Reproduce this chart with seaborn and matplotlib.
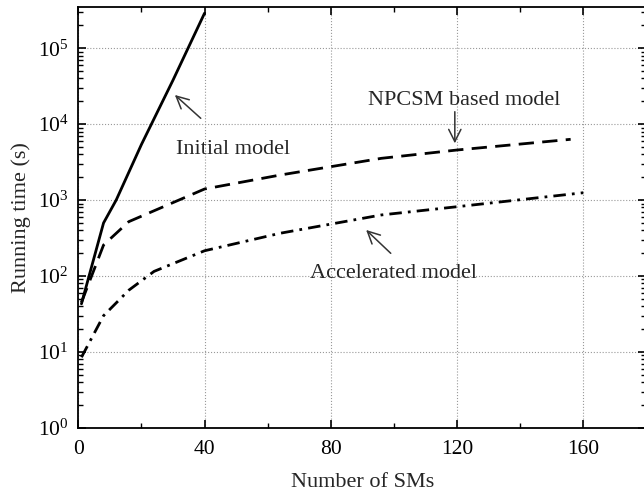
import numpy as np
import pandas as pd
import seaborn as sns
import matplotlib
matplotlib.use("Agg")
import matplotlib.pyplot as plt
from matplotlib.ticker import LogLocator, MultipleLocator, NullFormatter

# ---- data ----
x_initial = [1, 8, 12, 20, 30, 40]
y_initial = [43, 500, 1000, 5400, 38000, 290000]

x_npcsm = [1, 8, 16, 40, 64, 96, 120, 156]
y_npcsm = [45, 256, 520, 1400, 2140, 3550, 4570, 6320]

x_accel = [1, 8, 16, 24, 40, 64, 96, 120, 160]
y_accel = [8.5, 30, 65, 115, 215, 366, 637, 818, 1250]

labels = ["Initial model", "NPCSM based model", "Accelerated model"]

sns.set_theme(style="ticks")
plt.rcParams["font.family"] = ["Liberation Serif", "DejaVu Serif"]
plt.rcParams["mathtext.fontset"] = "custom"
plt.rcParams["mathtext.rm"] = "Liberation Serif"
plt.rcParams["mathtext.it"] = "Liberation Serif:italic"
plt.rcParams["mathtext.bf"] = "Liberation Serif:bold"

fig = plt.figure(figsize=(6.44, 4.95), dpi=100)
ax = fig.add_axes([78.3 / 644, 1 - 427.8 / 495, (646.4 - 78.3) / 644, (427.8 - 7) / 495])

lw = 2.0
sns.lineplot(x=x_initial, y=y_initial, ax=ax, color="black", lw=lw, linestyle="-")
sns.lineplot(x=x_npcsm, y=y_npcsm, ax=ax, color="black", lw=lw, linestyle=(0, (5.5, 3)))
sns.lineplot(x=x_accel, y=y_accel, ax=ax, color="black", lw=lw, linestyle=(0, (4.5, 2.2, 1, 2.2)))

ax.set_yscale("log")
ax.set_xlim(0, 180)
ax.set_ylim(1, 3.5e5)

ax.xaxis.set_major_locator(MultipleLocator(40))
ax.xaxis.set_minor_locator(MultipleLocator(20))
ax.yaxis.set_major_locator(LogLocator(base=10, numticks=10))
ax.yaxis.set_minor_locator(LogLocator(base=10, subs=np.arange(2, 10), numticks=20))
ax.yaxis.set_minor_formatter(NullFormatter())

ax.grid(True, which="major", linestyle=":", color="#999999", lw=0.8)
ax.tick_params(which="both", direction="in", top=True, right=True, colors="black", labelsize=15.5)
ax.tick_params(which="major", length=6, width=1.2)
ax.tick_params(which="minor", length=3.5, width=1.0)
ax.tick_params(axis="x", which="major", pad=9)
ax.tick_params(axis="y", which="major", pad=7)
for s in ax.spines.values():
    s.set_linewidth(1.3)
    s.set_color("black")

ax.set_xlabel("Number of SMs", fontsize=16, labelpad=10)
ax.set_ylabel("Running time (s)", fontsize=16, labelpad=5)

arrow_kw = dict(arrowstyle="->", color="#333333", lw=1.1, mutation_scale=22,
                shrinkA=0, shrinkB=0)
ax.annotate("", xy=(30.6, 24260), xytext=(38.8, 11960), arrowprops=arrow_kw)
ax.text(31.0, 4050, labels[0], fontsize=16, ha="left", va="baseline")

ax.annotate("", xy=(119.3, 5600), xytext=(119.3, 14600), arrowprops=arrow_kw)
ax.text(122.4, 17900, labels[1], fontsize=16, ha="center", va="baseline")

ax.annotate("", xy=(91.2, 404), xytext=(99.0, 199), arrowprops=arrow_kw)
ax.text(100, 93, labels[2], fontsize=16, ha="center", va="baseline")

fig.savefig("out.png", dpi=100)
